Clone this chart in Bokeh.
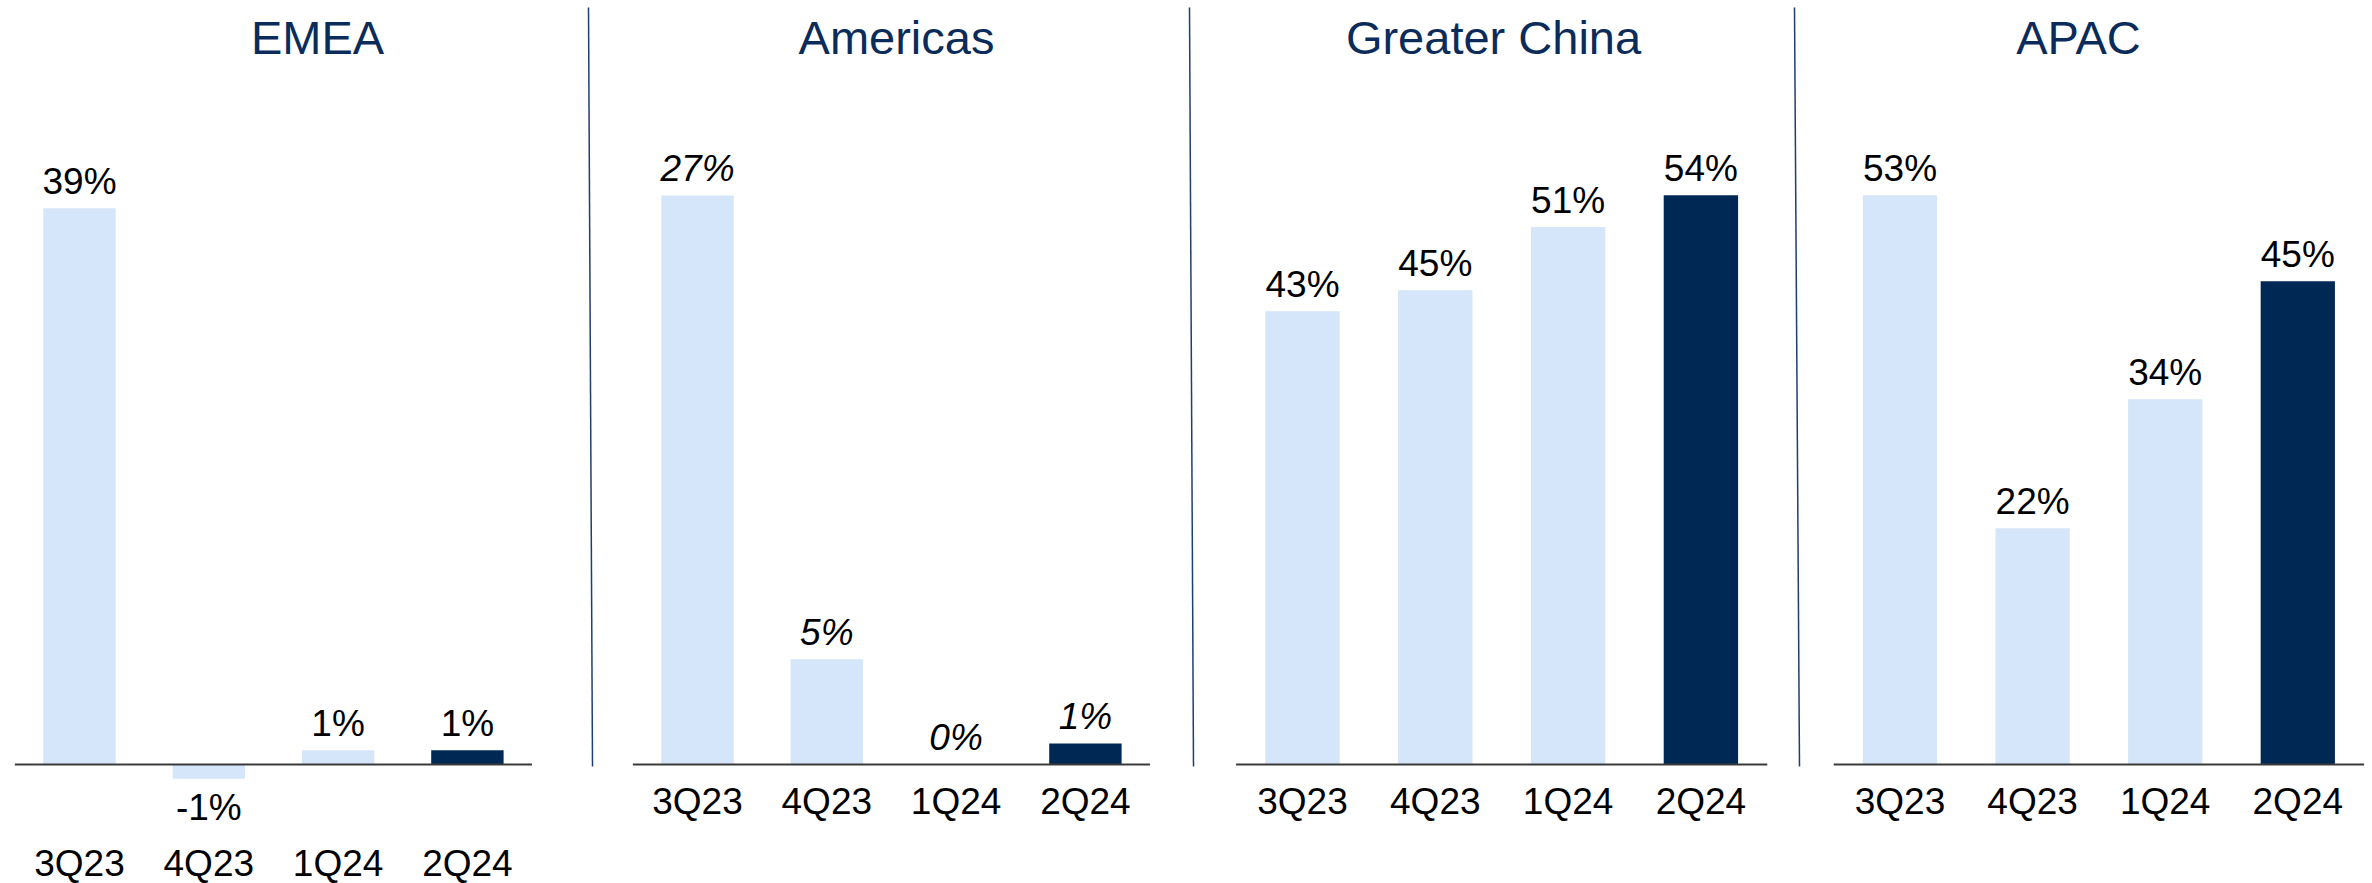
from bokeh.plotting import figure
from bokeh.layouts import row
from bokeh.models import Range1d, FixedTicker, Label
from bokeh.core.properties import value
from bokeh.embed import file_html
from bokeh.resources import INLINE

# ---------------- data ----------------
quarters = ["3Q23", "4Q23", "1Q24", "2Q24"]
regions = ["EMEA", "Americas", "Greater China", "APAC"]
emea = [39, -1, 1, 1]
americas = [27, 5, 0, 1]
greater_china = [43, 45, 51, 54]
apac = [53, 22, 34, 45]
series = [emea, americas, greater_china, apac]

# ---------------- style / layout ----------------
FONT = "Liberation Sans"
LIGHT = "#D6E6FA"
DARK = "#002855"
TITLE_COLOR = "#0B2C5A"
SEP_COLOR = "#1F3F73"
BASE_PX = 764          # pixel row of the zero line

panels = [
    dict(left=0,    width=580, c0=79,     step=129.3, k=14.26, fh=830, tc=317,  italic=False, standoff=12, sep=None),
    dict(left=580,  width=600, c0=697,    step=129.3, k=21.07, fh=770, tc=896,  italic=True,  standoff=10, sep=(588, 592)),
    dict(left=1180, width=605, c0=1302,   step=132.8, k=10.54, fh=770, tc=1493, italic=False, standoff=10, sep=(1189, 1193)),
    dict(left=1785, width=587, c0=1899.5, step=132.6, k=10.74, fh=770, tc=2078, italic=False, standoff=10, sep=(1794, 1799)),
]

figs = []
for region, vals, cfg in zip(regions, series, panels):
    def xd(px, c=cfg):
        return (px - c["c0"]) / c["step"]

    def yd(py, c=cfg):
        return (BASE_PX - py) / c["k"]

    p = figure(
        frame_width=cfg["width"], frame_height=cfg["fh"],
        x_range=Range1d(xd(cfg["left"]), xd(cfg["left"] + cfg["width"])),
        y_range=Range1d(yd(cfg["fh"]), yd(0)),
        output_backend="svg", toolbar_location=None,
        y_axis_location=None, min_border=0,
    )
    p.xgrid.visible = False
    p.ygrid.visible = False
    p.outline_line_color = None
    p.background_fill_color = "white"
    p.border_fill_color = "white"

    xs = list(range(len(quarters)))
    ax = p.xaxis[0]
    ax.ticker = FixedTicker(ticks=xs)
    ax.major_label_overrides = {i: q for i, q in enumerate(quarters)}
    ax.axis_line_color = None
    ax.major_tick_line_color = None
    ax.minor_tick_line_color = None
    ax.major_tick_out = 0
    ax.major_tick_in = 0
    ax.major_label_standoff = cfg["standoff"]
    ax.major_label_text_font = FONT
    ax.major_label_text_font_size = "37px"
    ax.major_label_text_color = "black"

    colors = [DARK if i == len(quarters) - 1 else LIGHT for i in xs]
    p.vbar(x=xs, top=vals, bottom=0, width=0.56, fill_color=colors, line_color=None)

    # zero line
    p.segment(x0=[-0.5], y0=[0], x1=[len(quarters) - 0.5], y1=[0],
              line_color="#3a3a3a", line_width=2)

    # value labels (centred vertically on the anchor)
    offs = [-26.7 if v >= 0 else 28.4 for v in vals]
    p.text(x=xs, y=vals, text=[f"{v}%" for v in vals], y_offset=offs,
           text_align="center", text_baseline="middle",
           text_font=value(FONT), text_font_size="37px", text_color="black",
           text_font_style="italic" if cfg["italic"] else "normal")

    # panel title
    p.add_layout(Label(x=xd(cfg["tc"]), y=yd(36.7), text=region,
                       text_align="center", text_baseline="middle",
                       text_font=FONT, text_font_size="47px", text_color=TITLE_COLOR))

    # separator line at the panel's left edge
    if cfg["sep"] is not None:
        p.segment(x0=[xd(cfg["sep"][0])], y0=[yd(7)], x1=[xd(cfg["sep"][1])], y1=[yd(766)],
                  line_color=SEP_COLOR, line_width=1.5)

    figs.append(p)

layout = row(*figs, spacing=0)
open("out.html", "w").write(file_html(layout, INLINE))
